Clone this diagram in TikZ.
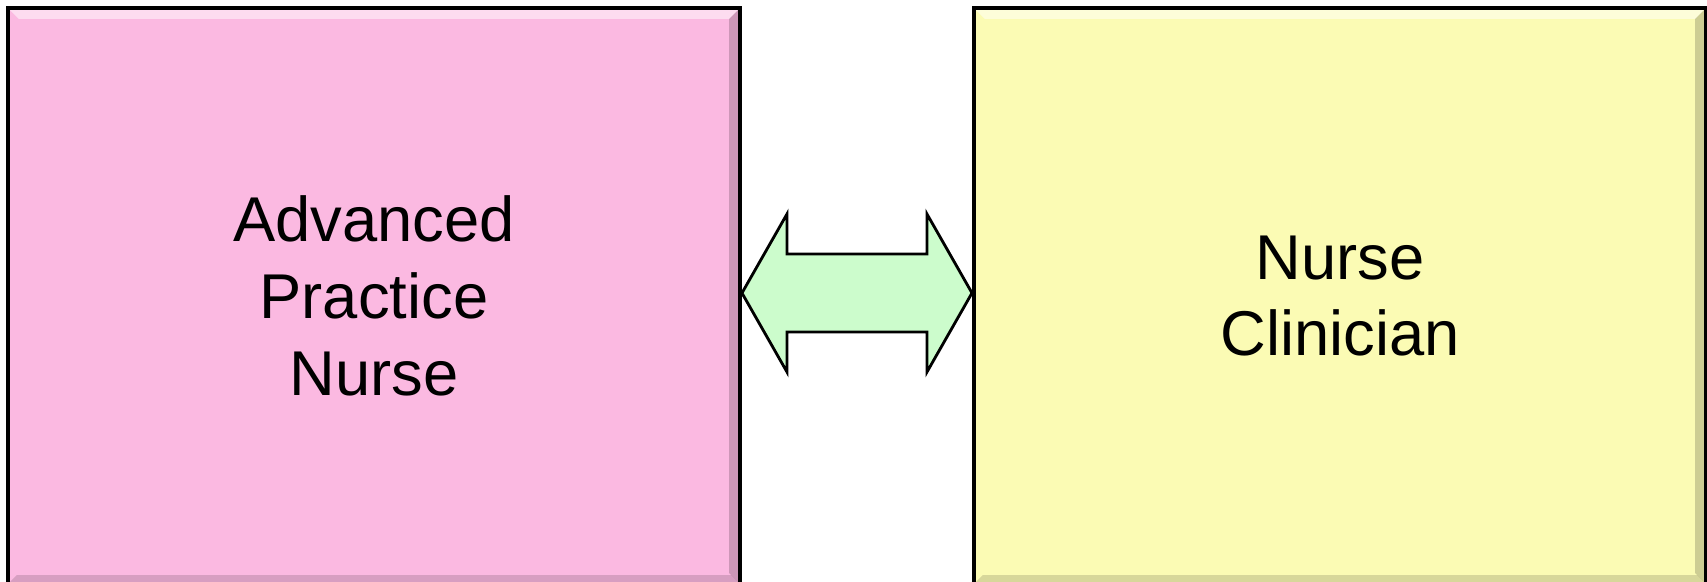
\documentclass[tikz,border=0pt]{standalone}
\usepackage{fontspec}
\setmainfont{Liberation Sans}
\usetikzlibrary{calc, positioning}
\usepackage{xcolor}
\definecolor{rolepink}{HTML}{FBB9E1}
\definecolor{roleyellow}{HTML}{FBFBB4}
\definecolor{linkgreen}{HTML}{CCFCCC}

\begin{document}
\begin{tikzpicture}[
  x=0.01cm, y=-0.01cm,
  rolebox/.style={
    rectangle, minimum width=7.32cm, minimum height=5.76cm,
    draw=black, line width=1pt, fill=#1, inner sep=0pt,
    font=\fontsize{18}{21.8}\selectfont, align=center,
    path picture={
      % bevel: light top, dark right and bottom
      \fill[white, opacity=0.5]
        (path picture bounding box.north west) -- (path picture bounding box.north east)
        -- ++(-11,11) -- ($(path picture bounding box.north west)+(11,11)$) -- cycle;
      \fill[black, opacity=0.18]
        (path picture bounding box.north east) -- (path picture bounding box.south east)
        -- ++(-11,-11) -- ($(path picture bounding box.north east)+(-11,11)$) -- cycle;
      \fill[black, opacity=0.14]
        (path picture bounding box.south west) -- (path picture bounding box.south east)
        -- ++(-9,-9) -- ($(path picture bounding box.south west)+(9,-9)$) -- cycle;
    }
  },
  linkarrow/.style={draw=black, line width=0.8pt, fill=linkgreen, line join=miter}
]
  \useasboundingbox (0,0) rectangle (1707,581);

  \node[rolebox=rolepink] (apn) at (374,296) {Advanced\\Practice\\Nurse};
  \node[rolebox=roleyellow] (clin) at (1340,296) {Nurse\\Clinician};

  % double arrow between the two roles
  \draw[linkarrow] (apn.east) ++(0,-3) -- ++(45,-79) -- ++(0,40) -- ++(140,0) -- ++(0,-40)
    -- ++(45,79) -- ++(-45,79) -- ++(0,-40) -- ++(-140,0) -- ++(0,40) -- cycle;
\end{tikzpicture}
\end{document}
